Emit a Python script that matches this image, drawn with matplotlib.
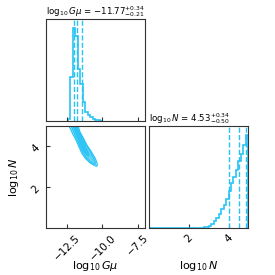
import numpy as np
import matplotlib
matplotlib.use("Agg")
import matplotlib.pyplot as plt

col = "#28c3f5"

# 1D marginal of log10 G mu (normalised heights per bin)
gmu_edges = [-12.45, -12.275, -12.1, -11.925, -11.75, -11.575, -11.4, -11.225,
             -11.05, -10.875, -10.7, -10.525, -10.35, -10.175, -10.0]
gmu_hist = [0.02, 0.47, 1.0, 0.92, 0.56, 0.40, 0.20, 0.10, 0.06, 0.04,
            0.025, 0.015, 0.008, 0.004]
gmu_q = [-11.98, -11.77, -11.43]

# 1D marginal of log10 N
n_edges = [2.0, 2.125, 2.25, 2.375, 2.5, 2.625, 2.75, 2.875, 3.0, 3.125, 3.25,
           3.375, 3.5, 3.625, 3.75, 3.875, 4.0, 4.125, 4.25, 4.375, 4.5, 4.625,
           4.75, 4.875, 5.0]
n_hist = [0.0, 0.0, 0.001, 0.002, 0.003, 0.004, 0.007, 0.012, 0.025, 0.045,
          0.075, 0.11, 0.15, 0.20, 0.25, 0.31, 0.40, 0.48, 0.55, 0.63, 0.72,
          0.80, 0.90, 1.0]
n_q = [4.03, 4.53, 4.87]

# 2D credible regions (log10 G mu, log10 N), outer to inner
outer_gmu = [-12.45, -12.37, -12.1, -11.87, -11.65, -11.45, -11.2, -10.9, -10.6,
             -10.42, -10.35, -10.4, -10.5, -10.8, -11.09, -11.35, -11.59, -11.72, -11.8]
outer_n = [5.3, 5.0, 4.6, 4.3, 3.95, 3.64, 3.4, 3.2, 3.07,
           3.02, 3.08, 3.2, 3.4, 3.75, 4.05, 4.4, 4.71, 5.0, 5.3]
mid_gmu = [-12.3, -12.22, -11.98, -11.77, -11.57, -11.38, -11.12, -10.85, -10.6,
           -10.5, -10.52, -10.65, -10.9, -11.17, -11.43, -11.68, -11.82, -11.9]
mid_n = [5.3, 5.0, 4.6, 4.3, 3.95, 3.68, 3.42, 3.24, 3.13,
         3.13, 3.25, 3.45, 3.8, 4.1, 4.45, 4.75, 5.0, 5.3]
inner_gmu = [-12.15, -12.08, -11.88, -11.7, -11.52, -11.35, -11.15, -11.0,
             -10.95, -11.05, -11.25, -11.48, -11.72, -11.88, -11.97]
inner_n = [5.3, 5.0, 4.65, 4.35, 4.05, 3.8, 3.6, 3.52,
           3.58, 3.75, 4.05, 4.4, 4.75, 5.0, 5.3]

gmu_lim = (-14, -7)
n_lim = (0, 5)
lab_gmu = r"$\log_{10}G\mu$"
lab_n = r"$\log_{10}N$"

plt.rcParams["font.family"] = "DejaVu Sans"
fig = plt.figure(figsize=(2.75, 2.75), dpi=100)
w, h = 0.36, 0.371
ax00 = fig.add_axes([0.167, 0.560, w, h])
ax10 = fig.add_axes([0.167, 0.171, w, h])
ax11 = fig.add_axes([0.543, 0.171, w, h])

for ax in (ax00, ax10, ax11):
    ax.tick_params(direction="in", labelsize=7.5, length=3, color="#333333")
    for s in ax.spines.values():
        s.set_color("#333333")

# top-left
ax00.stairs(gmu_hist, gmu_edges, color=col, lw=1.2)
for q in gmu_q:
    ax00.axvline(q, color=col, ls="--", lw=1.0)
ax00.set_xlim(gmu_lim)
ax00.set_ylim(0, 1.1 * max(gmu_hist))
ax00.set_yticks([])
ax00.set_xticks([-12.5, -10.0, -7.5])
ax00.set_xticklabels([])
ax00.set_title(r"$\log_{10}G\mu$ = $-11.77^{+0.34}_{-0.21}$", fontsize=6.2, loc="left", pad=2)

# bottom-right
ax11.stairs(n_hist, n_edges, color=col, lw=1.2)
ax11.plot([n_lim[0], n_edges[0]], [0, 0], color=col, lw=1.2)
for q in n_q:
    ax11.axvline(q, color=col, ls="--", lw=1.0)
ax11.set_xlim(n_lim)
ax11.set_ylim(0, 1.1 * max(n_hist))
ax11.set_yticks([])
ax11.set_xticks([2, 4])
for t in ax11.get_xticklabels():
    t.set_rotation(45)
ax11.set_xlabel(lab_n, fontsize=8)
ax11.xaxis.set_label_coords(0.5, -0.3)
ax11.set_title(r"$\log_{10}N$ = $4.53^{+0.34}_{-0.50}$", fontsize=6.2, loc="left", pad=2)

# bottom-left 2D
ax10.fill(outer_gmu, outer_n, color=col, alpha=0.4, lw=0)
ax10.fill(mid_gmu, mid_n, color=col, alpha=0.55, lw=0)
ax10.fill(inner_gmu, inner_n, color=col, alpha=0.8, lw=0)
ax10.plot(outer_gmu, outer_n, color=col, lw=0.8)
ax10.plot(mid_gmu, mid_n, color=col, lw=0.8)
ax10.plot(inner_gmu, inner_n, color=col, lw=0.8)
ax10.set_xlim(gmu_lim)
ax10.set_ylim(n_lim)
ax10.set_xticks([-12.5, -10.0, -7.5])
ax10.set_yticks([2, 4])
for t in ax10.get_xticklabels() + ax10.get_yticklabels():
    t.set_rotation(45)
ax10.set_xlabel(lab_gmu, fontsize=8)
ax10.set_ylabel(lab_n, fontsize=8)
ax10.xaxis.set_label_coords(0.5, -0.3)
ax10.yaxis.set_label_coords(-0.25, 0.5)

fig.savefig("out.png", dpi=100)
